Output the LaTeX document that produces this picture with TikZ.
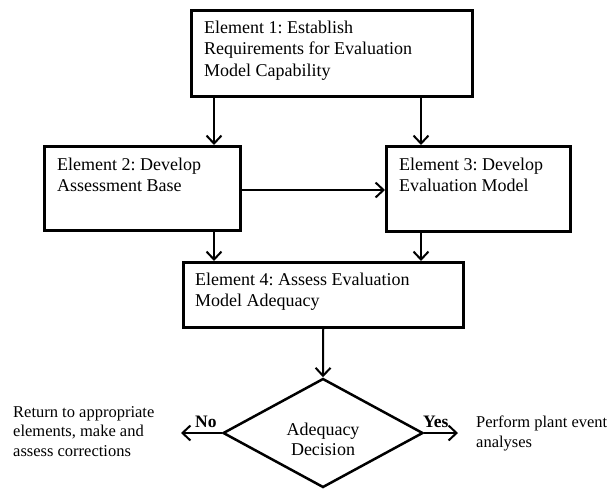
\documentclass[tikz,border=0pt]{standalone}
\usepackage{fontspec}
\setmainfont{Liberation Serif}
\frenchspacing
\usetikzlibrary{arrows.meta,shapes.geometric}
\begin{document}
\begin{tikzpicture}[x=1pt,y=-1pt,
  box/.style={draw,line width=2.5pt,inner sep=0pt,anchor=north west},
  boxtext/.style={anchor=north west,inner sep=0pt,align=left,font=\fontsize{18}{21.5}\selectfont},
  sidetext/.style={anchor=north west,inner sep=0pt,align=left,font=\fontsize{16.5}{19.5}\selectfont},
  yn/.style={anchor=base west,inner sep=0pt,font=\fontsize{17.5}{20}\selectfont\bfseries},
  arr/.style={line width=2pt,-{Straight Barb[length=8pt,width=15pt,line width=2pt]}}]
\useasboundingbox[fill=white] (0,0) rectangle (610,491);
% boxes
\node[box,minimum width=281pt,minimum height=86pt] (b1) at (190,9) {};
\node[box,minimum width=196pt,minimum height=84pt] (b2) at (43,145) {};
\node[box,minimum width=184pt,minimum height=85pt] (b3) at (385,145) {};
\node[box,minimum width=280pt,minimum height=65pt] (b4) at (182,261) {};
\node[draw,line width=2.5pt,shape=diamond,inner sep=0pt,minimum width=200pt,minimum height=109pt] (dec) at (323,433) {};
% texts
\node[boxtext] (t1) at (204,20.5) {Element 1: Establish\\Requirements for Evaluation\\Model Capability};
\node[boxtext] (t2) at (57,157.5) {Element 2: Develop\\Assessment Base};
\node[boxtext] (t3) at (399,157.5) {Element 3: Develop\\Evaluation Model};
\node[boxtext] (t4) at (195,272.5) {Element 4: Assess Evaluation\\Model Adequacy};
\node[anchor=north,inner sep=0pt,align=center,font=\fontsize{18}{20}\selectfont] (td) at (323,422.5) {Adequacy\\Decision};
\node[sidetext] (tl) at (13,406) {Return to appropriate\\elements, make and\\assess corrections};
\node[sidetext] (tr) at (476,415.7) {Perform plant event\\analyses};
\node[yn] (no) at (195,427) {No};
\node[yn] (yes) at (423,427) {Yes};
% helper coordinates
\coordinate (lx) at (214,0);
\coordinate (rx) at (421,0);
\coordinate (hy) at (0,190);
\coordinate (lend) at (181,433);
\coordinate (rend) at (458,433);
% connectors
\draw[arr] (b1.south -| lx) -- (b2.north -| lx);
\draw[arr] (b1.south -| rx) -- (b3.north -| rx);
\draw[arr] (b2.east |- hy) -- (b3.west |- hy);
\draw[arr] (b2.south -| lx) -- (b4.north -| lx);
\draw[arr] (b3.south -| rx) -- (b4.north -| rx);
\draw[arr] (b4.south) -- (dec.north);
\draw[arr] (dec.west) -- (lend);
\draw[arr] (dec.east) -- (rend);
\end{tikzpicture}
\end{document}
